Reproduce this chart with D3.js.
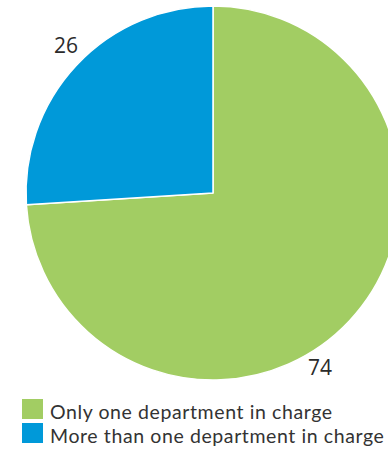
<!DOCTYPE html>
<html>
<head>
<meta charset="utf-8">
<script src="https://cdn.jsdelivr.net/npm/d3@7"></script>
<style>
  html, body { margin: 0; padding: 0; background: #fff; overflow: hidden; }
  svg { display: block; }
</style>
</head>
<body>
<svg id="chart" width="388" height="453"></svg>
<script>
// Share of cases by number of departments in charge (%)
const categories = ["Only one department in charge", "More than one department in charge"];
const values = [74, 26];
const colors = ["#a2cd63", "#0099d9"];
// Value label offsets from the pie centre
const labelOffsets = [[107, 174], [-147, -148]];

const svg = d3.select("#chart");
const cx = 213, cy = 193, radius = 187;

const pie = d3.pie().sort(null).value(d => d.value);
const arcs = pie(categories.map((c, i) => ({ name: c, value: values[i], color: colors[i], off: labelOffsets[i] })));
const arc = d3.arc().innerRadius(0).outerRadius(radius);

const g = svg.append("g").attr("transform", `translate(${cx},${cy})`);
g.selectAll("path")
  .data(arcs)
  .join("path")
  .attr("d", arc)
  .attr("fill", d => d.data.color)
  .attr("stroke", "#fff")
  .attr("stroke-width", 1.5)
  .attr("stroke-linejoin", "round");

g.selectAll("text.val")
  .data(arcs)
  .join("text")
  .attr("class", "val")
  .attr("x", d => d.data.off[0])
  .attr("y", d => d.data.off[1])
  .attr("text-anchor", "middle")
  .attr("dominant-baseline", "central")
  .attr("font-family", "'Open Sans', 'Noto Sans', sans-serif")
  .attr("font-size", 21)
  .attr("fill", "#2b2b2b")
  .text(d => d.data.value);

// Legend
const legend = svg.append("g").attr("transform", "translate(22,399)");
const rows = legend.selectAll("g")
  .data(categories)
  .join("g")
  .attr("transform", (d, i) => `translate(0,${i * 24})`);
rows.append("rect")
  .attr("width", 21).attr("height", 20)
  .attr("fill", (d, i) => colors[i]);
rows.append("text")
  .attr("x", 28).attr("y", 20)
  .attr("font-family", "Lato, 'Open Sans', sans-serif")
  .attr("font-size", 19.5)
  .attr("letter-spacing", 0.6)
  .attr("fill", "#333")
  .text(d => d);
</script>
</body>
</html>
